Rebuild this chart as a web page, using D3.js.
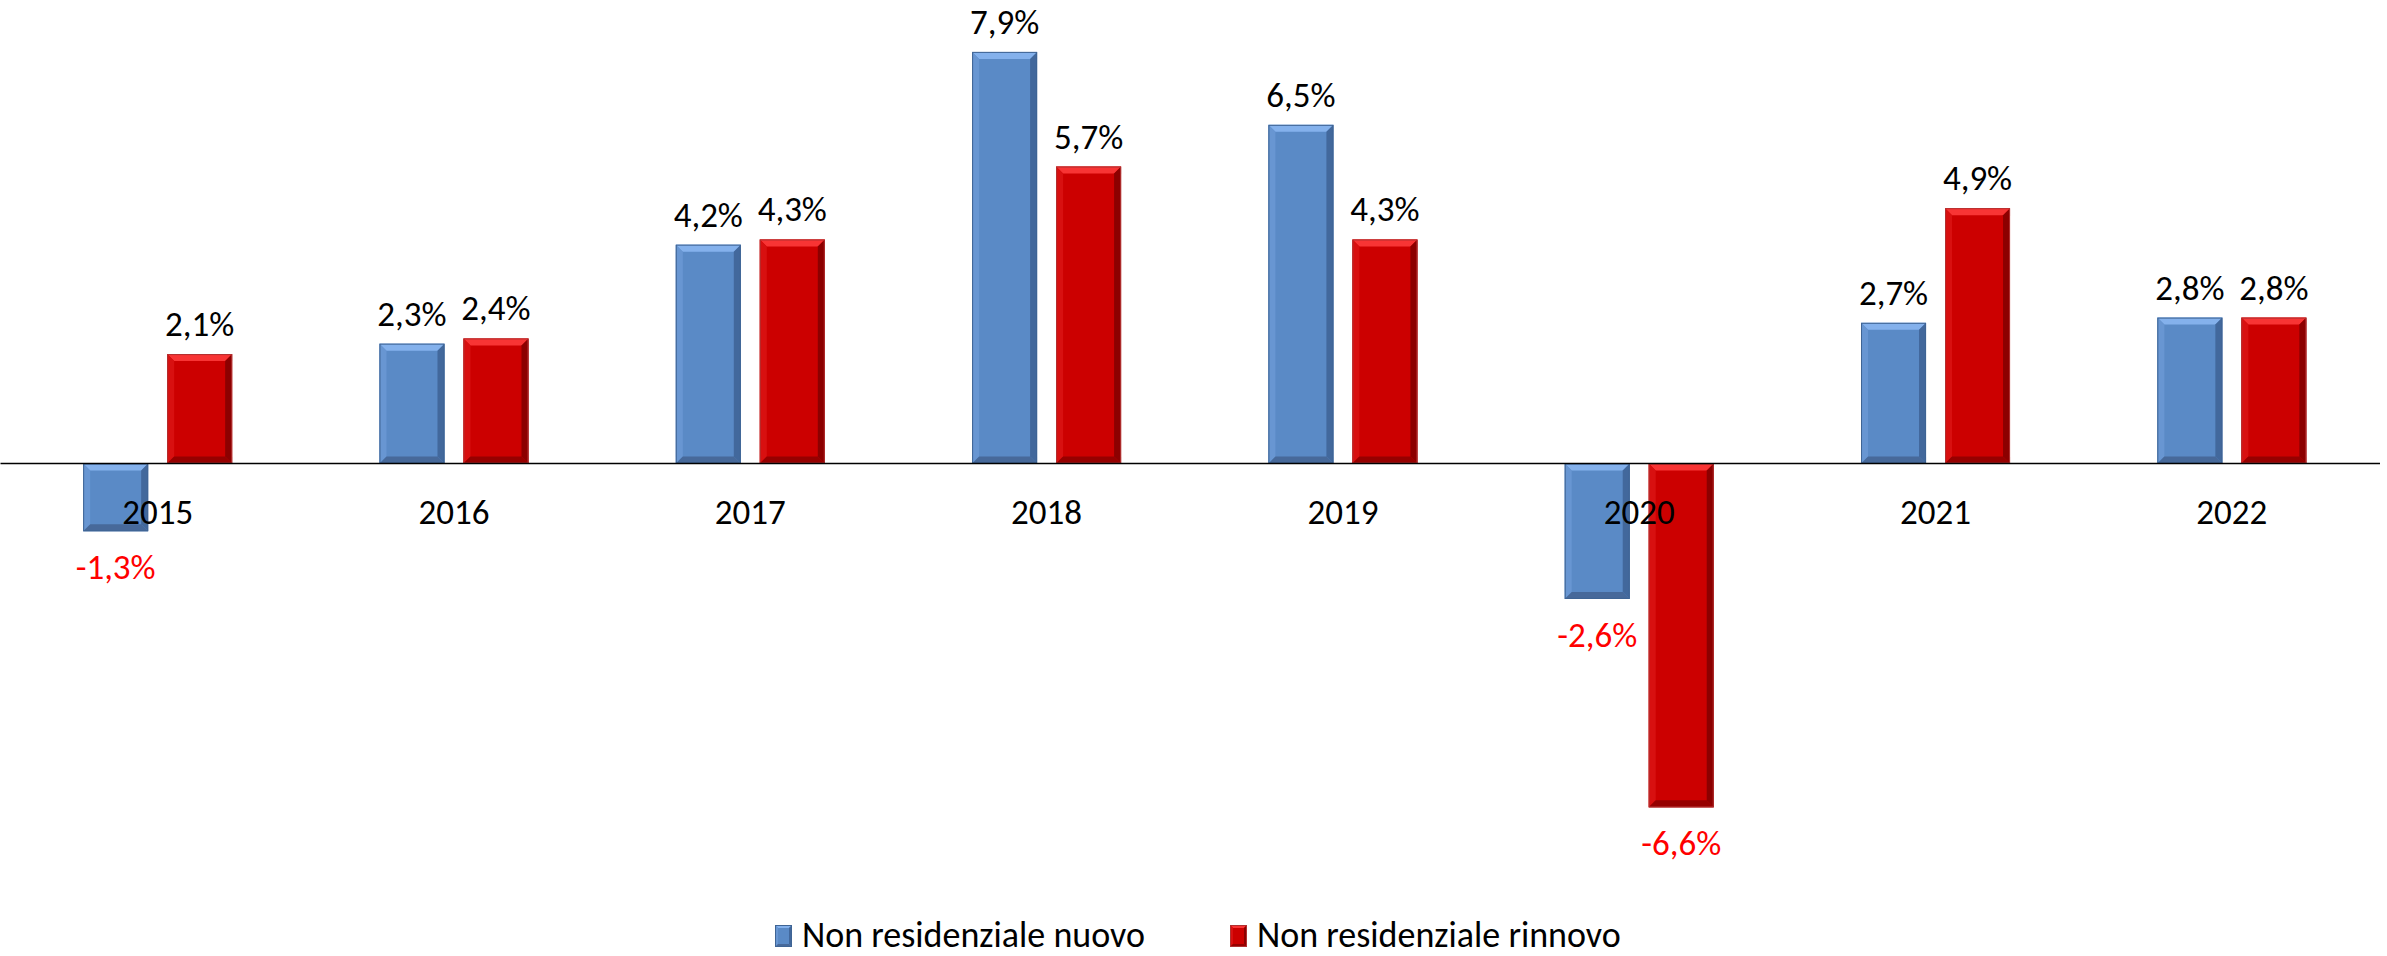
<!DOCTYPE html>
<html>
<head>
<meta charset="utf-8">
<script src="https://cdn.jsdelivr.net/npm/d3@7"></script>
<style>
  html, body { margin: 0; padding: 0; background: #fff; }
  svg text { font-family: Carlito, Calibri, Lato, sans-serif; }
</style>
</head>
<body>
<div id="graph"></div>
<script>

//----------------------------------------------------------
// data
var g_years = ["2015", "2016", "2017", "2018", "2019", "2020", "2021", "2022"];
var g_series = ["Non residenziale nuovo", "Non residenziale rinnovo"];
var g_nuovo = [-1.3, 2.3, 4.2, 7.9, 6.5, -2.6, 2.7, 2.8];
var g_rinnovo = [2.1, 2.4, 4.3, 5.7, 4.3, -6.6, 4.9, 2.8];

// bevel palettes: base, top, left, right, bottom
var g_palette = [
    { base: "#5A8AC6", top: "#84B1EC", left: "#6896D2", right: "#42689C", bottom: "#47699A", stroke: "#3F6494" },
    { base: "#CC0000", top: "#F83434", left: "#D81010", right: "#8C0000", bottom: "#960000", stroke: "#B03030" }
];

var width = 2387, height = 956;
var font_size = 35;

var g_svg = d3.select("#graph")
  .append("svg")
    .attr("width", width)
    .attr("height", height);


//----------------------------------------------------------
function Bevel(sel, x, y, w, h, b, pal) {
    b = Math.min(b, w / 2, h / 2);
    sel.append("rect")
        .attr("x", x).attr("y", y).attr("width", w).attr("height", h)
        .attr("fill", pal.base);

    var faces = [
        [pal.top, [[x, y], [x + w, y], [x + w - b, y + b], [x + b, y + b]]],
        [pal.left, [[x, y], [x + b, y + b], [x + b, y + h - b], [x, y + h]]],
        [pal.right, [[x + w, y], [x + w, y + h], [x + w - b, y + h - b], [x + w - b, y + b]]],
        [pal.bottom, [[x, y + h], [x + b, y + h - b], [x + w - b, y + h - b], [x + w, y + h]]]
    ];
    faces.forEach(function (f) {
        sel.append("polygon")
            .attr("points", f[1].map(function (p) { return p.join(","); }).join(" "))
            .attr("fill", f[0]);
    });

    sel.append("rect")
        .attr("x", x + 0.5).attr("y", y + 0.5).attr("width", w - 1).attr("height", h - 1)
        .attr("fill", "none")
        .attr("stroke", pal.stroke)
        .attr("stroke-width", 1);
}

function Fmt(v) {
    return v.toFixed(1).replace(".", ",") + "%";
}


//----------------------------------------------------------
var x0 = d3.scaleBand()
    .domain(g_years)
    .range([9.5, 2380]);

var x1 = d3.scaleBand()
    .domain(g_series)
    .range([x0.bandwidth() / 2 - 74.5, x0.bandwidth() / 2 + 74.5])
    .paddingInner(0.226);

var y = d3.scaleLinear()
    .domain([-8, 8.5])
    .range([463.5 + 8 * 52.1, 463.5 - 8.5 * 52.1]);

var rows = [];
g_years.forEach(function (year, i) {
    rows.push({ year: year, series: 0, value: g_nuovo[i] });
    rows.push({ year: year, series: 1, value: g_rinnovo[i] });
});

var bars = g_svg.append("g");
rows.forEach(function (d) {
    var bx = x0(d.year) + x1(g_series[d.series]);
    var top = y(Math.max(0, d.value));
    var h = Math.abs(y(d.value) - y(0));
    Bevel(bars.append("g"), bx, top, x1.bandwidth(), h, 7, g_palette[d.series]);
});

// zero line
g_svg.append("line")
    .attr("x1", x0.range()[0] - 9).attr("x2", x0.range()[1])
    .attr("y1", y(0)).attr("y2", y(0))
    .attr("stroke", "#000")
    .attr("stroke-width", 1.5);

// value labels
g_svg.append("g")
  .selectAll("text")
  .data(rows)
  .join("text")
    .attr("x", function (d) { return x0(d.year) + x1(g_series[d.series]) + x1.bandwidth() / 2; })
    .attr("y", function (d) { return d.value >= 0 ? y(d.value) - 18 : y(d.value) + 48; })
    .attr("text-anchor", "middle")
    .attr("font-size", font_size)
    .attr("fill", function (d) { return d.value >= 0 ? "#000" : "#FF0000"; })
    .text(function (d) { return Fmt(d.value); });

// category labels
g_svg.append("g")
  .selectAll("text")
  .data(g_years)
  .join("text")
    .attr("x", function (d) { return x0(d) + x0.bandwidth() / 2; })
    .attr("y", y(0) + 60)
    .attr("text-anchor", "middle")
    .attr("font-size", font_size)
    .attr("fill", "#000")
    .text(function (d) { return d; });

// legend
var legend_x = [775, 1230];
var legend = g_svg.append("g");
g_series.forEach(function (name, i) {
    var g = legend.append("g");
    Bevel(g, legend_x[i], 925, 17, 22, 3, g_palette[i]);
    g.append("text")
        .attr("x", legend_x[i] + 27)
        .attr("y", 947)
        .attr("font-size", 36)
        .attr("fill", "#000")
        .text(name);
});

</script>
</body>
</html>
